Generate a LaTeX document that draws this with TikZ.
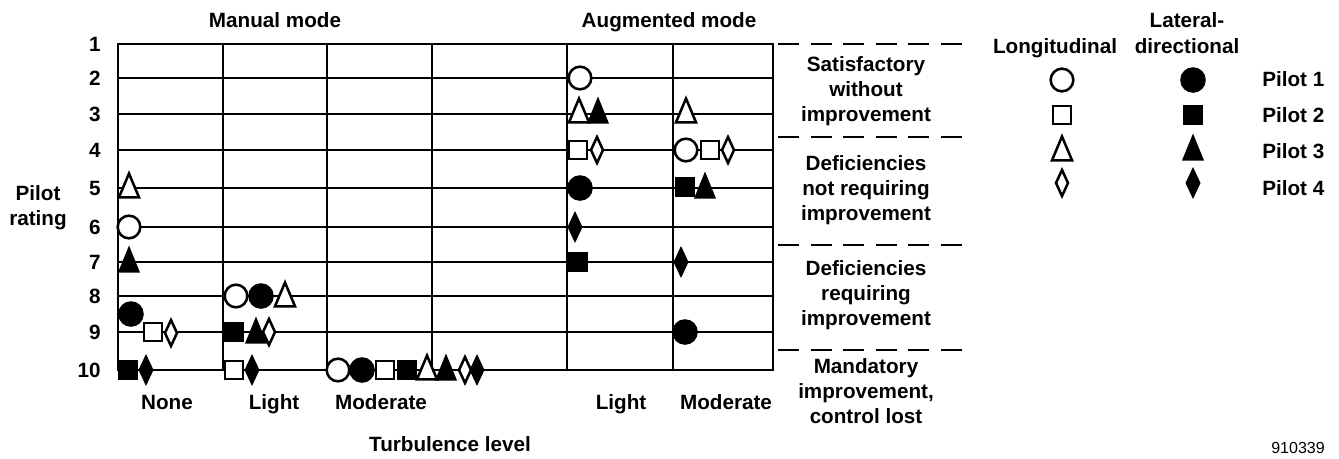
\documentclass[tikz,border=0pt]{standalone}
\usepackage{fontspec}
\setmainfont{Liberation Sans}
\begin{document}
\begin{tikzpicture}[x=0.75pt,y=-0.75pt,
  lbl/.style={font=\fontsize{15.5}{18.75}\selectfont\bfseries, inner sep=0pt, align=center},
  gridline/.style={line width=2.1pt},
  dashline/.style={line width=2.1pt, dash pattern=on 15.75pt off 8.7pt},
  mk/.style={line width=1.9pt, line join=miter},
  pics/oc/.style={code={\draw[mk,fill=white] (0,0) circle[radius=8.5pt];}},
  pics/fc/.style={code={\fill (0,0) circle[radius=9.6pt];}},
  pics/os/.style={code={\draw[mk,fill=white] (-8.8,-8.8) rectangle (8.8,8.8);}},
  pics/fs/.style={code={\fill (-10,-10) rectangle (10,10);}},
  pics/ot/.style={code={\draw[mk,fill=white] (-10,12.3) -- (10,12.3) -- (0,-11.5) -- cycle;}},
  pics/ft/.style={code={\fill (-11,13.5) -- (11,13.5) -- (0,-13.5) -- cycle;}},
  pics/od/.style={code={\draw[mk,fill=white] (-6,0) -- (0,-13) -- (6,0) -- (0,13) -- cycle;}},
  pics/fd/.style={code={\fill (-7.5,0) -- (0,-16) -- (7.5,0) -- (0,16) -- cycle;}},
]
\useasboundingbox (0,0) rectangle (1339,458);

% grid
\draw[gridline] (118,44) rectangle (773,370);
\foreach \yy in {78,114,150,188,227,262,296,332}
  \draw[gridline] (118,\yy) -- (773,\yy);
\foreach \xx in {223,327,432,567,673}
  \draw[gridline] (\xx,44) -- (\xx,370);

% row numbers
\foreach \n/\yy in {1/44,2/78,3/114,4/150,5/188,6/227,7/262,8/296,9/332,10/370}
  \node[lbl, anchor=east] (r\n) at (101,\yy) {\n};

% titles and axis labels
\node[lbl, anchor=base] (manual) at (275,27) {Manual mode};
\node[lbl, anchor=base] (augm) at (669,27) {Augmented mode};
\node[lbl] (pilot) at (38,208) {Pilot\\rating};
\node[lbl, anchor=base] (c1) at (167,409) {None};
\node[lbl, anchor=base] (c2) at (274,409) {Light};
\node[lbl, anchor=base] (c3) at (381,409) {Moderate};
\node[lbl, anchor=base] (c4) at (621,409) {Light};
\node[lbl, anchor=base] (c5) at (726,409) {Moderate};
\node[lbl, anchor=base] (turb) at (450,451) {Turbulence level};

% category dashed lines and labels
\foreach \yy in {44,137,245,350}
  \draw[dashline] (778,\yy) -- (962,\yy);
\node[lbl] (k1) at (866,91) {Satisfactory\\without\\improvement};
\node[lbl] (k2) at (866,190) {Deficiencies\\not requiring\\improvement};
\node[lbl] (k3) at (866,295) {Deficiencies\\requiring\\improvement};
\node[lbl] (k4) at (866,391) {Mandatory\\improvement,\\control lost};

% legend
\node[lbl, anchor=base] (lon) at (1055,53) {Longitudinal};
\node[lbl, anchor=base] (lat) at (1187,27) {Lateral-};
\node[lbl, anchor=base] (dir) at (1187,53) {directional};
\pic (l1o) at (1062,80) {oc};
\pic (l1f) at (1193,80) {fc};
\pic (l2o) at (1062,115) {os};
\pic (l2f) at (1193,115) {fs};
\pic (l3o) at (1062,148) {ot};
\pic (l3f) at (1193,147) {ft};
\pic (l4o) at (1062,183) {od};
\pic (l4f) at (1193,183) {fd};
\node[lbl, anchor=west] (p1) at (1262,79) {Pilot 1};
\node[lbl, anchor=west] (p2) at (1262,115) {Pilot 2};
\node[lbl, anchor=west] (p3) at (1262,151) {Pilot 3};
\node[lbl, anchor=west] (p4) at (1262,188) {Pilot 4};
\node[font=\fontsize{12}{14}\selectfont, inner sep=0pt] (fig) at (1298,448) {910339};

% manual, none
\pic (a1) at (129,185) {ot};
\pic (a2) at (129,227) {oc};
\pic (a3) at (129,259) {ft};
\pic (a4) at (131,314) {fc};
\pic (a5) at (153,332) {os};
\pic (a6) at (171,333) {od};
\pic (a7) at (128,370) {fs};
\pic (a8) at (146,370) {fd};
% manual, light
\pic (b1) at (236,296) {oc};
\pic (b2) at (261,296) {fc};
\pic (b3) at (285,294) {ot};
\pic (b4) at (234,332) {fs};
\pic (b5) at (256,330) {ft};
\pic (b6) at (269,332) {od};
\pic (b7) at (234,370) {os};
\pic (b8) at (252,370) {fd};
% manual, moderate
\pic (m1) at (338,370) {oc};
\pic (m2) at (362,370) {fc};
\pic (m3) at (385,370) {os};
\pic (m4) at (407,370) {fs};
\pic (m5) at (427,367) {ot};
\pic (m6) at (446,367) {ft};
\pic (m7) at (465,370) {od};
\pic (m8) at (477,370) {fd};
% augmented, light
\pic (g1) at (580,78) {oc};
\pic (g2) at (579,110) {ot};
\pic (g3) at (598,110) {ft};
\pic (g4) at (578,150) {os};
\pic (g5) at (597,150) {od};
\pic (g6) at (580,188) {fc};
\pic (g7) at (575,227) {fd};
\pic (g8) at (578,262) {fs};
% augmented, moderate
\pic (h1) at (686,110) {ot};
\pic (h2) at (686,150) {oc};
\pic (h3) at (710,150) {os};
\pic (h4) at (728,150) {od};
\pic (h5) at (685,187) {fs};
\pic (h6) at (705,185) {ft};
\pic (h7) at (681,262) {fd};
\pic (h8) at (685,332) {fc};
\end{tikzpicture}
\end{document}
